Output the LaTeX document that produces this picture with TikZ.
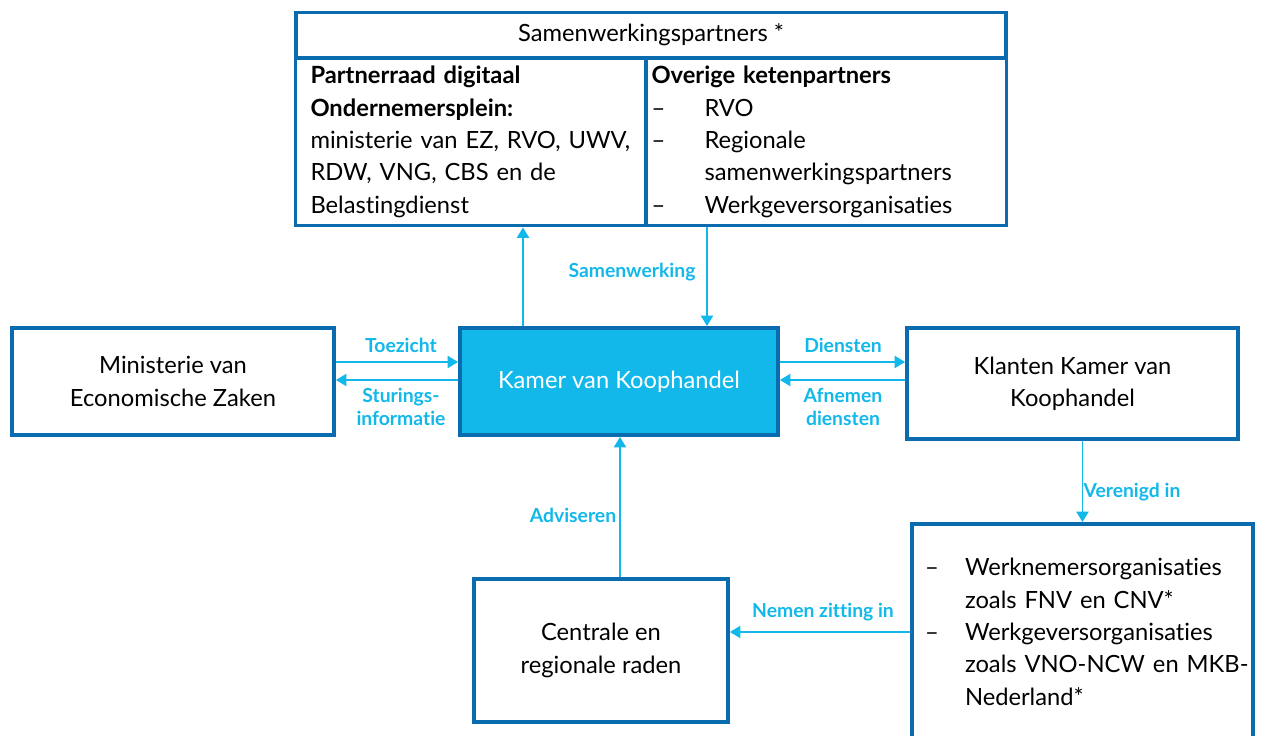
\documentclass[tikz,border=0pt]{standalone}
\usepackage{fontspec}
\setmainfont{Lato}[Ligatures={TeX,NoCommon}]
\usepackage{tikz}
\usetikzlibrary{arrows.meta, positioning}
\definecolor{kvkdonker}{RGB}{10, 108, 174}
\definecolor{kvklicht}{RGB}{18, 184, 234}
\newcommand{\streep}[1]{\makebox[#1][l]{--}}
\newcommand{\inspring}[1]{\hspace*{#1}}

\begin{document}
\begin{tikzpicture}
    % Styles
    \tikzstyle{blok} = [rectangle, draw=kvkdonker, line width=2.2pt, fill=white,
        align=center, font=\fontsize{13.5}{18.4}\selectfont, inner sep=0pt]
    \tikzstyle{pijl} = [kvklicht, line width=0.9pt, -{Triangle[width=7pt,length=6pt]}]
    \tikzstyle{bijschrift} = [text=kvklicht, font=\fontsize{11}{13}\selectfont\bfseries, align=center]

    \useasboundingbox (0,0) rectangle (25.3,-14.72);

    % Nodes
    \node [blok, minimum width=14.2cm, minimum height=0.9cm] (kop) at (13.02,-0.70) {Samenwerkingspartners *};
    \node [blok, minimum width=7.0cm, minimum height=3.34cm, text width=6.4cm, align=left] (links) at (9.41,-2.84)
        {\textbf{Partnerraad digitaal}\\ \textbf{Ondernemersplein:}\\ \mbox{ministerie van EZ, RVO, UWV,}\\ RDW, VNG, CBS en de\\ Belastingdienst};
    \node [blok, minimum width=7.2cm, minimum height=3.34cm, text width=7.0cm, align=left] (rechts) at (16.53,-2.84)
        {\textbf{Overige ketenpartners}\\ \streep{1.06cm}RVO\\ \streep{1.06cm}Regionale\\ \inspring{1.06cm}samenwerkingspartners\\ \streep{1.06cm}Werkgeversorganisaties};
    \node [blok, minimum width=6.44cm, minimum height=2.14cm] (minez) at (3.46,-7.63) {Ministerie van\\ Economische Zaken};
    \node [blok, fill=kvklicht, text=white, minimum width=6.36cm, minimum height=2.14cm] (kvk) at (12.38,-7.63) {Kamer van Koophandel};
    \node [blok, minimum width=6.82cm, minimum height=4.32cm, text width=6.3cm, align=left] (org) at (21.65,-12.64)
        {\streep{0.8cm}Werknemersorganisaties\\ \inspring{0.8cm}zoals FNV en CNV*\\ \streep{0.8cm}Werkgeversorganisaties\\ \inspring{0.8cm}\mbox{zoals VNO-NCW en MKB-}\\ \inspring{0.8cm}Nederland*};
    \node [blok, minimum width=6.62cm, minimum height=2.22cm] (klanten) at (21.45,-7.67) {Klanten Kamer van\\ Koophandel};
    \node [blok, minimum width=5.08cm, minimum height=2.86cm] (raden) at (12.02,-13.01) {Centrale en\\ regionale raden};

    % Arrows
    \draw [pijl] (kvk.north -| 10.46,0) -- (links.south -| 10.46,0);
    \draw [pijl] (rechts.south -| 14.14,0) -- (kvk.north -| 14.14,0);
    \draw [pijl] (minez.east |- 0,-7.24) -- (kvk.west |- 0,-7.24);
    \draw [pijl] (kvk.west |- 0,-7.6) -- (minez.east |- 0,-7.6);
    \draw [pijl] (kvk.east |- 0,-7.24) -- (klanten.west |- 0,-7.24);
    \draw [pijl] (klanten.west |- 0,-7.6) -- (kvk.east |- 0,-7.6);
    \draw [pijl] (klanten.south -| org.north) -- (org.north);
    \draw [pijl] (raden.north -| 12.4,0) -- (kvk.south -| 12.4,0);
    \draw [pijl] (org.west) -- (raden.east |- org.west);

    % Labels
    \node [bijschrift] (lsamen) at (12.64,-5.44) {Samenwerking};
    \node [bijschrift] (ltoezicht) at (8.02,-6.9) {Toezicht};
    \node [bijschrift] (lsturing) at (8.02,-8.14) {Sturings-\\ informatie};
    \node [bijschrift] (ldiensten) at (16.86,-6.9) {Diensten};
    \node [bijschrift] (lafnemen) at (16.86,-8.14) {Afnemen\\ diensten};
    \node [bijschrift] (lverenigd) at (22.64,-9.84) {Verenigd in};
    \node [bijschrift] (ladvies) at (11.46,-10.3) {Adviseren};
    \node [bijschrift] (lzitting) at (16.46,-12.24) {Nemen zitting in};
\end{tikzpicture}
\end{document}
